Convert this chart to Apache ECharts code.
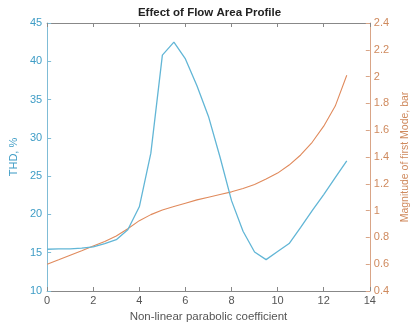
<!DOCTYPE html>
<html>
<head>
<meta charset="utf-8">
<script src="https://cdn.jsdelivr.net/npm/echarts@6/dist/echarts.min.js"></script>
<style>
  html, body { margin: 0; padding: 0; background: #ffffff; }
  #chart { width: 419px; height: 328px; }
</style>
</head>
<body>
<div id="chart"></div>
<script>
// Non-linear parabolic coefficient (x values shared by both curves)
const coefficient = [0, 0.5, 1, 1.5, 2, 2.5, 3, 3.5, 4, 4.5, 5, 5.5, 6, 6.5, 7, 7.5, 8, 8.5, 9, 9.5, 10, 10.5, 11, 11.5, 12, 12.5, 13];
// Total harmonic distortion, %
const thd = [15.45, 15.5, 15.5, 15.6, 15.75, 16.2, 16.7, 18.0, 21.0, 28.0, 40.8, 42.5, 40.3, 36.8, 32.8, 27.5, 21.8, 17.8, 15.1, 14.1, 15.15, 16.2, 18.3, 20.5, 22.6, 24.8, 27.0];
// Magnitude of the first mode, bar
const firstMode = [0.60, 0.633, 0.667, 0.70, 0.735, 0.77, 0.81, 0.865, 0.925, 0.97, 1.005, 1.03, 1.055, 1.08, 1.10, 1.12, 1.14, 1.165, 1.195, 1.235, 1.28, 1.34, 1.415, 1.51, 1.63, 1.78, 2.01];

const blue = '#62b6d6';
const blueText = '#3f9dc6';
const orange = '#e08a5c';
const orangeText = '#cf8a5e';
const font = 'Liberation Sans, Arial, sans-serif';

const pairs = (ys) => coefficient.map((x, i) => [x, ys[i]]);

const chart = echarts.init(document.getElementById('chart'), null, { renderer: 'canvas' });
chart.setOption({
  animation: false,
  backgroundColor: '#ffffff',
  title: {
    text: 'Effect of Flow Area Profile',
    left: 'center',
    top: 2,
    textStyle: { fontFamily: font, fontSize: 11.5, fontWeight: 'bold', color: '#222' }
  },
  grid: { left: 41, right: 35, top: 23, bottom: 35, containLabel: false },
  xAxis: [{
    type: 'value',
    min: 0, max: 14, interval: 2,
    position: 'bottom',
    name: 'Non-linear parabolic coefficient',
    nameLocation: 'middle',
    nameGap: 20,
    nameTextStyle: { fontFamily: font, fontSize: 11.5, color: '#555' },
    axisLine: { show: true, onZero: false, lineStyle: { color: '#888', width: 1 } },
    axisTick: { show: true, inside: true, length: 4, lineStyle: { color: '#888' } },
    axisLabel: { fontFamily: font, fontSize: 11, color: '#555', margin: 4 },
    splitLine: { show: false }
  }, {
    type: 'value',
    min: 0, max: 14, interval: 2,
    position: 'top',
    axisLine: { show: true, onZero: false, lineStyle: { color: '#888', width: 1 } },
    axisTick: { show: true, inside: true, length: 4, lineStyle: { color: '#888' } },
    axisLabel: { show: false },
    splitLine: { show: false }
  }],
  yAxis: [{
    type: 'value',
    min: 10, max: 45, interval: 5,
    position: 'left',
    name: 'THD, %',
    nameLocation: 'middle',
    nameRotate: 90,
    nameGap: 22,
    nameTextStyle: { fontFamily: font, fontSize: 11, color: blueText },
    axisLine: { show: true, onZero: false, lineStyle: { color: '#7fbcd6', width: 1 } },
    axisTick: { show: true, inside: true, length: 4, lineStyle: { color: '#7fbcd6' } },
    axisLabel: { fontFamily: font, fontSize: 11, color: blueText, margin: 5 },
    splitLine: { show: false }
  }, {
    type: 'value',
    min: 0.4, max: 2.4, interval: 0.2,
    position: 'right',
    name: 'Magnitude of first Mode, bar',
    nameLocation: 'middle',
    nameRotate: 90,
    nameGap: 27,
    nameTextStyle: { fontFamily: font, fontSize: 10.5, color: orangeText },
    axisLine: { show: true, onZero: false, lineStyle: { color: '#d9a587', width: 1 } },
    axisTick: { show: true, inside: true, length: 4, lineStyle: { color: '#d9a587' } },
    axisLabel: {
      fontFamily: font, fontSize: 11, color: orangeText, margin: 4,
      formatter: (v) => String(Math.round(v * 10) / 10)
    },
    splitLine: { show: false }
  }],
  series: [{
    name: 'THD',
    type: 'line',
    xAxisIndex: 0,
    yAxisIndex: 0,
    data: pairs(thd),
    showSymbol: false,
    lineStyle: { color: blue, width: 1.3 },
    z: 3
  }, {
    name: 'First mode',
    type: 'line',
    xAxisIndex: 0,
    yAxisIndex: 1,
    data: pairs(firstMode),
    showSymbol: false,
    lineStyle: { color: orange, width: 1.1 },
    z: 2
  }]
});
</script>
</body>
</html>
